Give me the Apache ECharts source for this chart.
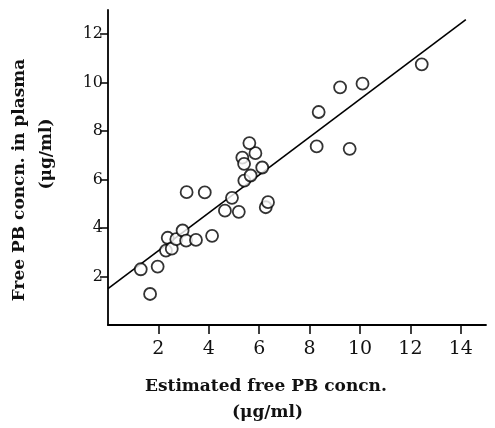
<!DOCTYPE html>
<html><head><meta charset="utf-8">
<script src="https://cdn.jsdelivr.net/npm/echarts@6/dist/echarts.min.js"></script>
<style>html,body{margin:0;padding:0;background:#fff}#c{width:495px;height:428px}</style>
</head><body><div id="c"></div>
<script>
var estX = [1.30,1.67,1.97,2.30,2.37,2.53,2.71,2.96,3.10,3.49,4.13,3.12,3.84,4.64,4.92,5.19,5.41,5.66,6.12,5.33,5.40,5.85,5.61,6.26,6.35,8.28,8.36,9.21,10.1,9.59,12.45];
var plasmaY = [2.30,1.28,2.41,3.07,3.60,3.15,3.54,3.90,3.48,3.51,3.68,5.48,5.47,4.72,5.25,4.67,5.96,6.17,6.50,6.91,6.65,7.09,7.51,4.86,5.07,7.37,8.79,9.81,9.96,7.27,10.76];
var fitX = [0, 14.2];
var fitY = [1.5, 12.6];
var xTicks = [2,4,6,8,10,12,14];
var yTicks = [2,4,6,8,10,12];

var pts = estX.map(function(v,i){return [v, plasmaY[i]];});
var fit = fitX.map(function(v,i){return [v, fitY[i]];});
var font = 'DejaVu Serif';
var chart = echarts.init(document.getElementById('c'));
chart.setOption({
  animation:false,
  backgroundColor:'#fff',
  grid:{left:108,right:9,top:10,bottom:103},
  xAxis:{type:'value',min:0,max:15,interval:2,
    axisLine:{lineStyle:{color:'#000',width:1.8}},
    axisTick:{length:9,customValues:xTicks,lineStyle:{color:'#000',width:1.5}},
    splitLine:{show:false},
    axisLabel:{margin:15,customValues:xTicks,color:'#111',fontFamily:font,fontSize:19}},
  yAxis:{type:'value',min:0,max:13,interval:2,
    axisLine:{lineStyle:{color:'#000',width:1.8}},
    axisTick:{length:8,customValues:yTicks,lineStyle:{color:'#000',width:1.5}},
    splitLine:{show:false},
    axisLabel:{margin:5,customValues:yTicks,color:'#111',fontFamily:font,fontSize:16}},
  series:[
    {type:'line',data:fit,symbol:'none',lineStyle:{color:'#000',width:1.6},z:2},
    {type:'scatter',data:pts,symbol:'circle',symbolSize:12,
      itemStyle:{color:'#fff',borderColor:'#000',borderWidth:1.8},z:3}
  ],
  graphic:[
    {type:'text',left:145,top:378,style:{text:'Estimated free PB concn.',fontFamily:font,fontSize:17,fontWeight:'bold',fill:'#111'}},
    {type:'text',left:232,top:404,style:{text:'(μg/ml)',fontFamily:font,fontSize:17,fontWeight:'bold',fill:'#111'}},
    {type:'text',x:20,y:180,rotation:Math.PI/2,style:{text:'Free PB concn. in plasma',fontFamily:font,fontSize:17,fontWeight:'bold',fill:'#111',align:'center',verticalAlign:'middle'}},
    {type:'text',x:47,y:154,rotation:Math.PI/2,style:{text:'(μg/ml)',fontFamily:font,fontSize:17,fontWeight:'bold',fill:'#111',align:'center',verticalAlign:'middle'}}
  ]
});
</script></body></html>
